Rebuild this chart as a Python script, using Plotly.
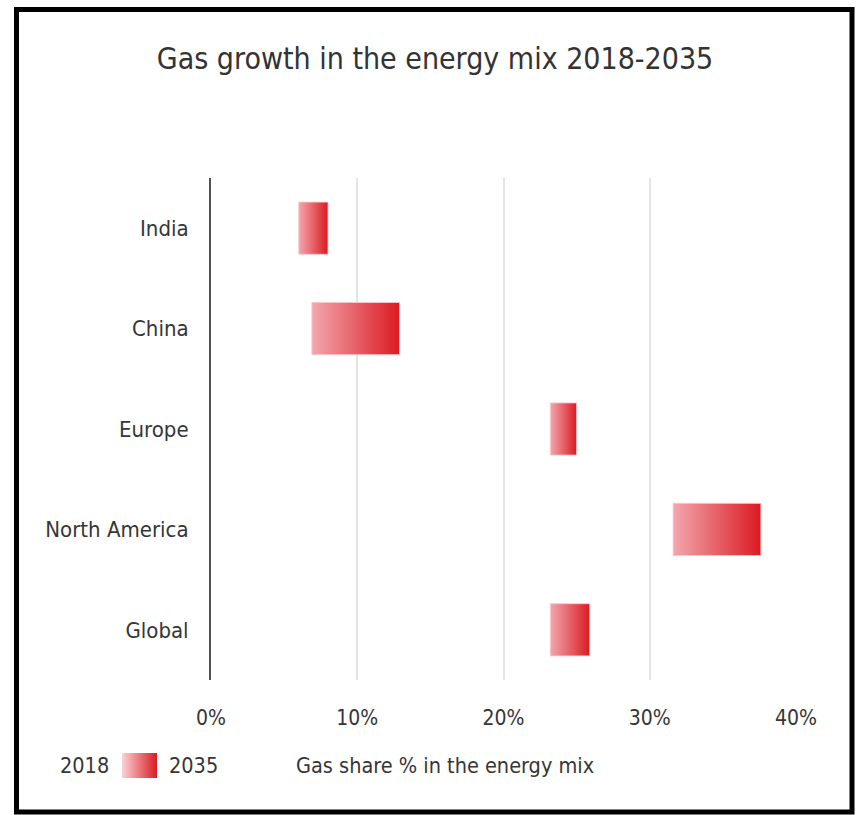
import plotly.graph_objects as go

# Gas share of the energy mix (%), 2018 vs 2035
regions = ["India", "China", "Europe", "North America", "Global"]
share_2018 = [6.0, 6.9, 23.2, 31.6, 23.2]
share_2035 = [8.0, 12.9, 25.0, 37.6, 25.9]

x_ticks = [0, 10, 20, 30, 40]
x_tick_labels = ["0%", "10%", "20%", "30%", "40%"]

W, H = 856, 815
FONT = "DejaVu Sans Condensed, DejaVu Sans, sans-serif"
TEXT = "#363636"
BAR_SCALE = [[0, "#f2a7ad"], [1, "#db1a22"]]
HALF = 0.26  # half bar thickness in category units


def px_x(v):
    return v / W


def px_y(v):
    return 1 - v / H


fig = go.Figure()

# one gradient-filled bar per region, spanning 2018 -> 2035
for i, (name, a, b) in enumerate(zip(regions, share_2018, share_2035)):
    fig.add_trace(go.Scatter(
        x=[a, b, b, a, a],
        y=[i - HALF, i - HALF, i + HALF, i + HALF, i - HALF],
        mode="lines",
        fill="toself",
        fillgradient=dict(type="horizontal", colorscale=BAR_SCALE),
        line=dict(color="rgba(248,200,204,0.9)", width=1),
        name=name,
        hoverinfo="text",
        text=f"{name}: {a:g}% → {b:g}%",
        showlegend=False,
    ))

# legend swatch on its own small axes
fig.add_trace(go.Scatter(
    x=[0, 1, 1, 0, 0], y=[0, 0, 1, 1, 0],
    mode="lines", fill="toself",
    fillgradient=dict(type="horizontal", colorscale=[[0, "#f9d3d6"], [1, "#db1a22"]]),
    line=dict(width=0, color="rgba(0,0,0,0)"),
    xaxis="x2", yaxis="y2", hoverinfo="skip", showlegend=False,
))

fig.update_layout(
    width=W, height=H,
    margin=dict(l=0, r=0, t=0, b=0, autoexpand=False),
    paper_bgcolor="white", plot_bgcolor="white",
    font=dict(family=FONT, color=TEXT),
    title=dict(
        text="Gas growth in the energy mix 2018-2035",
        x=px_x(435), xanchor="center",
        y=px_y(58), yanchor="middle",
        font=dict(size=30, color="#333333", family=FONT),
        automargin=False,
    ),
    xaxis=dict(
        domain=[px_x(211), px_x(796)],
        range=[0, 40],
        tickvals=x_ticks, ticktext=x_tick_labels,
        showgrid=True, gridcolor="#e4e4e4", gridwidth=2,
        zeroline=False, showline=False,
        ticks="", ticklabelstandoff=23,
        tickfont=dict(size=21, color=TEXT),
        automargin=False,
    ),
    yaxis=dict(
        domain=[px_y(680), px_y(178)],
        range=[len(regions) - 0.5, -0.5],
        tickvals=list(range(len(regions))), ticktext=regions,
        showgrid=False, zeroline=False,
        showline=True, linecolor="#505050", linewidth=2,
        ticks="", ticklabelstandoff=16,
        tickfont=dict(size=22, color=TEXT),
        automargin=False,
    ),
    xaxis2=dict(domain=[px_x(122), px_x(157)], range=[0, 1], visible=False,
                fixedrange=True, anchor="y2", automargin=False),
    yaxis2=dict(domain=[px_y(778), px_y(753)], range=[0, 1], visible=False,
                fixedrange=True, anchor="x2", automargin=False),
    showlegend=False,
)

legend_y = px_y(765)
for txt, x, anchor in [("2018", 111, "right"), ("2035", 167, "left"),
                       ("Gas share % in the energy mix", 294, "left")]:
    fig.add_annotation(
        text=txt, x=px_x(x), y=legend_y, xref="paper", yref="paper",
        xanchor=anchor, yanchor="middle", showarrow=False,
        font=dict(size=21.5, color=TEXT, family=FONT),
    )

# frame around the whole graphic
fig.add_shape(type="rect", xref="paper", yref="paper",
              x0=px_x(16.5), x1=px_x(852), y0=px_y(812), y1=px_y(9.5),
              line=dict(color="black", width=5), fillcolor="rgba(0,0,0,0)",
              layer="above")

fig.write_html("out.html")
